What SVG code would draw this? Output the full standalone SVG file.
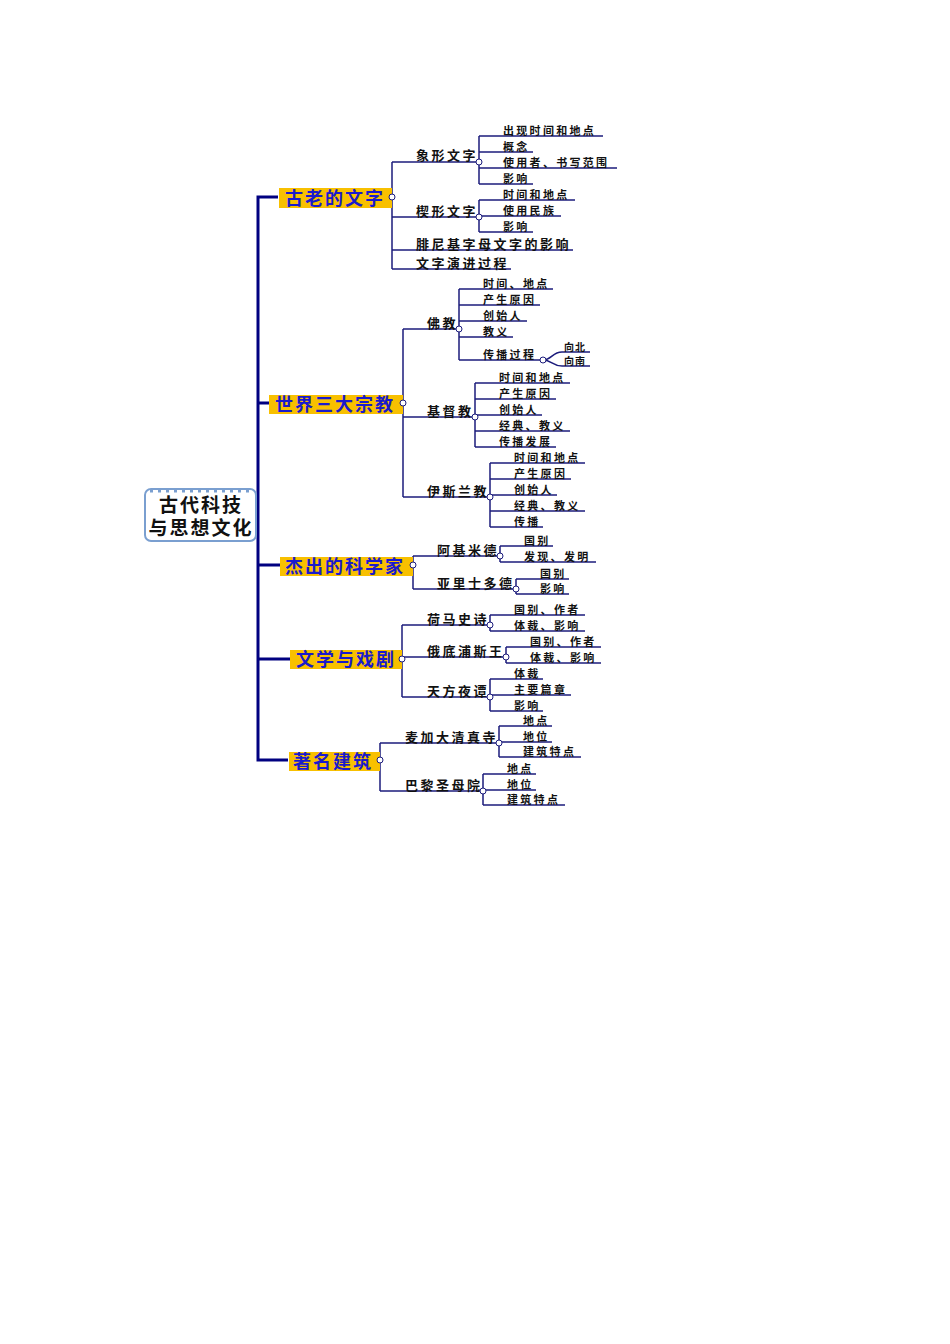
<svg xmlns="http://www.w3.org/2000/svg" width="950" height="1344" viewBox="0 0 950 1344">
<style>
.c{fill:none;stroke:#1c1c7c;stroke-width:1.5}
.t{fill:none;stroke:#000080;stroke-width:3}
.k{fill:#fff;stroke:#1c1c7c;stroke-width:1}
.m{font-family:"Noto Sans CJK SC",sans-serif;font-weight:bold;font-size:18px;letter-spacing:2px;fill:#1a1acc}
.b{fill:#f8c000}
.l2{font-family:"Noto Sans CJK SC",sans-serif;font-weight:bold;font-size:13px;letter-spacing:2.5px;fill:#111}
.l3{font-family:"Noto Sans CJK SC",sans-serif;font-weight:bold;font-size:11px;letter-spacing:2.3px;fill:#111}
.l4{font-family:"Noto Sans CJK SC",sans-serif;font-weight:bold;font-size:10px;letter-spacing:1px;fill:#111}
.r{font-family:"Noto Sans CJK SC",sans-serif;font-weight:bold;font-size:19px;letter-spacing:2px;fill:#111}
</style>
<rect width="950" height="1344" fill="#fff"/>
<g id="connectors">
<path class="t" d="M278,197 H258 V760 H288 M258,403 H269 M258,565 H280 M258,659 H290"/>
<path class="c" d="M392,197 V269 M392,162 H479 M392,217 H479 M392,250 H573 M392,269 H511 M392,162 V197"/>
<path class="c" d="M479,136 V184 M479,136 H603 M479,152 H533 M479,168 H617 M479,184 H533"/>
<path class="c" d="M479,200 V232 M479,200 H575 M479,216 H561 M479,232 H533"/>
<path class="c" d="M403,329 V497 M403,329 H459 M403,417 H475 M403,497 H490"/>
<path class="c" d="M459,289 V360 M459,289 H553 M459,305 H540 M459,321 H527 M459,337 H513 M459,360 H543"/>
<path class="c" d="M543,360 C552,360 552,352 562,352 H590 M543,360 C552,360 552,366 562,366 H590" stroke-width="1"/>
<path class="c" d="M475,383 V447 M475,383 H570 M475,399 H556 M475,415 H542 M475,431 H570 M475,447 H556"/>
<path class="c" d="M490,463 V527 M490,463 H585 M490,479 H571 M490,495 H557 M490,511 H585 M490,527 H543"/>
<path class="c" d="M413,556 V589 M413,556 H500 M413,589 H516"/>
<path class="c" d="M500,546 V562 M500,546 H553 M500,562 H596 M516,579 V594 M516,579 H569 M516,594 H569"/>
<path class="c" d="M402,625 V697 M402,625 H490 M402,657 H506 M402,697 H490"/>
<path class="c" d="M490,615 V631 M490,615 H585 M490,631 H585 M506,647 V663 M506,647 H601 M506,663 H601"/>
<path class="c" d="M490,679 V711 M490,679 H543 M490,695 H571 M490,711 H543"/>
<path class="c" d="M380,743 V791 M380,743 H499 M380,791 H483"/>
<path class="c" d="M499,726 V757 M499,726 H552 M499,742 H552 M499,757 H581 M483,774 V805 M483,774 H536 M483,790 H536 M483,805 H565"/>
</g>
<g id="root">
<rect x="145" y="489" width="111" height="52" rx="6" fill="#fff" stroke="#7a9fd0" stroke-width="2"/>
<path d="M150,491 H251" stroke="#7a9fd0" stroke-width="3" stroke-dasharray="3,5"/>
<text class="r" x="201" y="512" text-anchor="middle">古代科技</text>
<text class="r" x="201" y="535" text-anchor="middle">与思想文化</text>
</g>
<g id="n1"><rect class="b" x="279" y="188" width="113" height="20"/><text class="m" x="285" y="205">古老的文字</text><circle class="k" cx="392" cy="197" r="3"/></g>
<g id="n2"><rect class="b" x="269" y="395" width="134" height="19"/><text class="m" x="275" y="411">世界三大宗教</text><circle class="k" cx="403" cy="403" r="3"/></g>
<g id="n3"><rect class="b" x="280" y="557" width="133" height="19"/><text class="m" x="285" y="573">杰出的科学家</text><circle class="k" cx="413" cy="565" r="3"/></g>
<g id="n4"><rect class="b" x="290" y="650" width="112" height="19"/><text class="m" x="296" y="666">文学与戏剧</text><circle class="k" cx="402" cy="659" r="3"/></g>
<g id="n5"><rect class="b" x="289" y="752" width="91" height="19"/><text class="m" x="293" y="768">著名建筑</text><circle class="k" cx="380" cy="760" r="3"/></g>
<g id="level2">
<text class="l2" x="416" y="160">象形文字</text><circle class="k" cx="479" cy="162" r="3"/>
<text class="l2" x="416" y="216">楔形文字</text><circle class="k" cx="479" cy="217" r="3"/>
<text class="l2" x="416" y="249">腓尼基字母文字的影响</text>
<text class="l2" x="416" y="268">文字演进过程</text>
<text class="l2" x="427" y="328">佛教</text><circle class="k" cx="459" cy="329" r="3"/>
<text class="l2" x="427" y="416">基督教</text><circle class="k" cx="475" cy="417" r="3"/>
<text class="l2" x="427" y="496">伊斯兰教</text><circle class="k" cx="490" cy="497" r="3"/>
<text class="l2" x="437" y="555">阿基米德</text><circle class="k" cx="500" cy="556" r="3"/>
<text class="l2" x="437" y="588">亚里士多德</text><circle class="k" cx="516" cy="589" r="3"/>
<text class="l2" x="427" y="624">荷马史诗</text><circle class="k" cx="490" cy="625" r="3"/>
<text class="l2" x="427" y="656">俄底浦斯王</text><circle class="k" cx="506" cy="657" r="3"/>
<text class="l2" x="427" y="696">天方夜谭</text><circle class="k" cx="490" cy="697" r="3"/>
<text class="l2" x="405" y="742">麦加大清真寺</text><circle class="k" cx="499" cy="743" r="3"/>
<text class="l2" x="405" y="790">巴黎圣母院</text><circle class="k" cx="483" cy="791" r="3"/>
</g>
<g id="level3">
<text class="l3" x="503" y="135">出现时间和地点</text>
<text class="l3" x="503" y="151">概念</text>
<text class="l3" x="503" y="167">使用者、书写范围</text>
<text class="l3" x="503" y="183">影响</text>
<text class="l3" x="503" y="199">时间和地点</text>
<text class="l3" x="503" y="215">使用民族</text>
<text class="l3" x="503" y="231">影响</text>
<text class="l3" x="483" y="288">时间、地点</text>
<text class="l3" x="483" y="304">产生原因</text>
<text class="l3" x="483" y="320">创始人</text>
<text class="l3" x="483" y="336">教义</text>
<text class="l3" x="483" y="359">传播过程</text><circle class="k" cx="543" cy="360" r="3"/>
<text class="l4" x="564" y="351">向北</text>
<text class="l4" x="564" y="365">向南</text>
<text class="l3" x="499" y="382">时间和地点</text>
<text class="l3" x="499" y="398">产生原因</text>
<text class="l3" x="499" y="414">创始人</text>
<text class="l3" x="499" y="430">经典、教义</text>
<text class="l3" x="499" y="446">传播发展</text>
<text class="l3" x="514" y="462">时间和地点</text>
<text class="l3" x="514" y="478">产生原因</text>
<text class="l3" x="514" y="494">创始人</text>
<text class="l3" x="514" y="510">经典、教义</text>
<text class="l3" x="514" y="526">传播</text>
<text class="l3" x="524" y="545">国别</text>
<text class="l3" x="524" y="561">发现、发明</text>
<text class="l3" x="540" y="578">国别</text>
<text class="l3" x="540" y="593">影响</text>
<text class="l3" x="514" y="614">国别、作者</text>
<text class="l3" x="514" y="630">体裁、影响</text>
<text class="l3" x="530" y="646">国别、作者</text>
<text class="l3" x="530" y="662">体裁、影响</text>
<text class="l3" x="514" y="678">体裁</text>
<text class="l3" x="514" y="694">主要篇章</text>
<text class="l3" x="514" y="710">影响</text>
<text class="l3" x="523" y="725">地点</text>
<text class="l3" x="523" y="741">地位</text>
<text class="l3" x="523" y="756">建筑特点</text>
<text class="l3" x="507" y="773">地点</text>
<text class="l3" x="507" y="789">地位</text>
<text class="l3" x="507" y="804">建筑特点</text>
</g>
</svg>
